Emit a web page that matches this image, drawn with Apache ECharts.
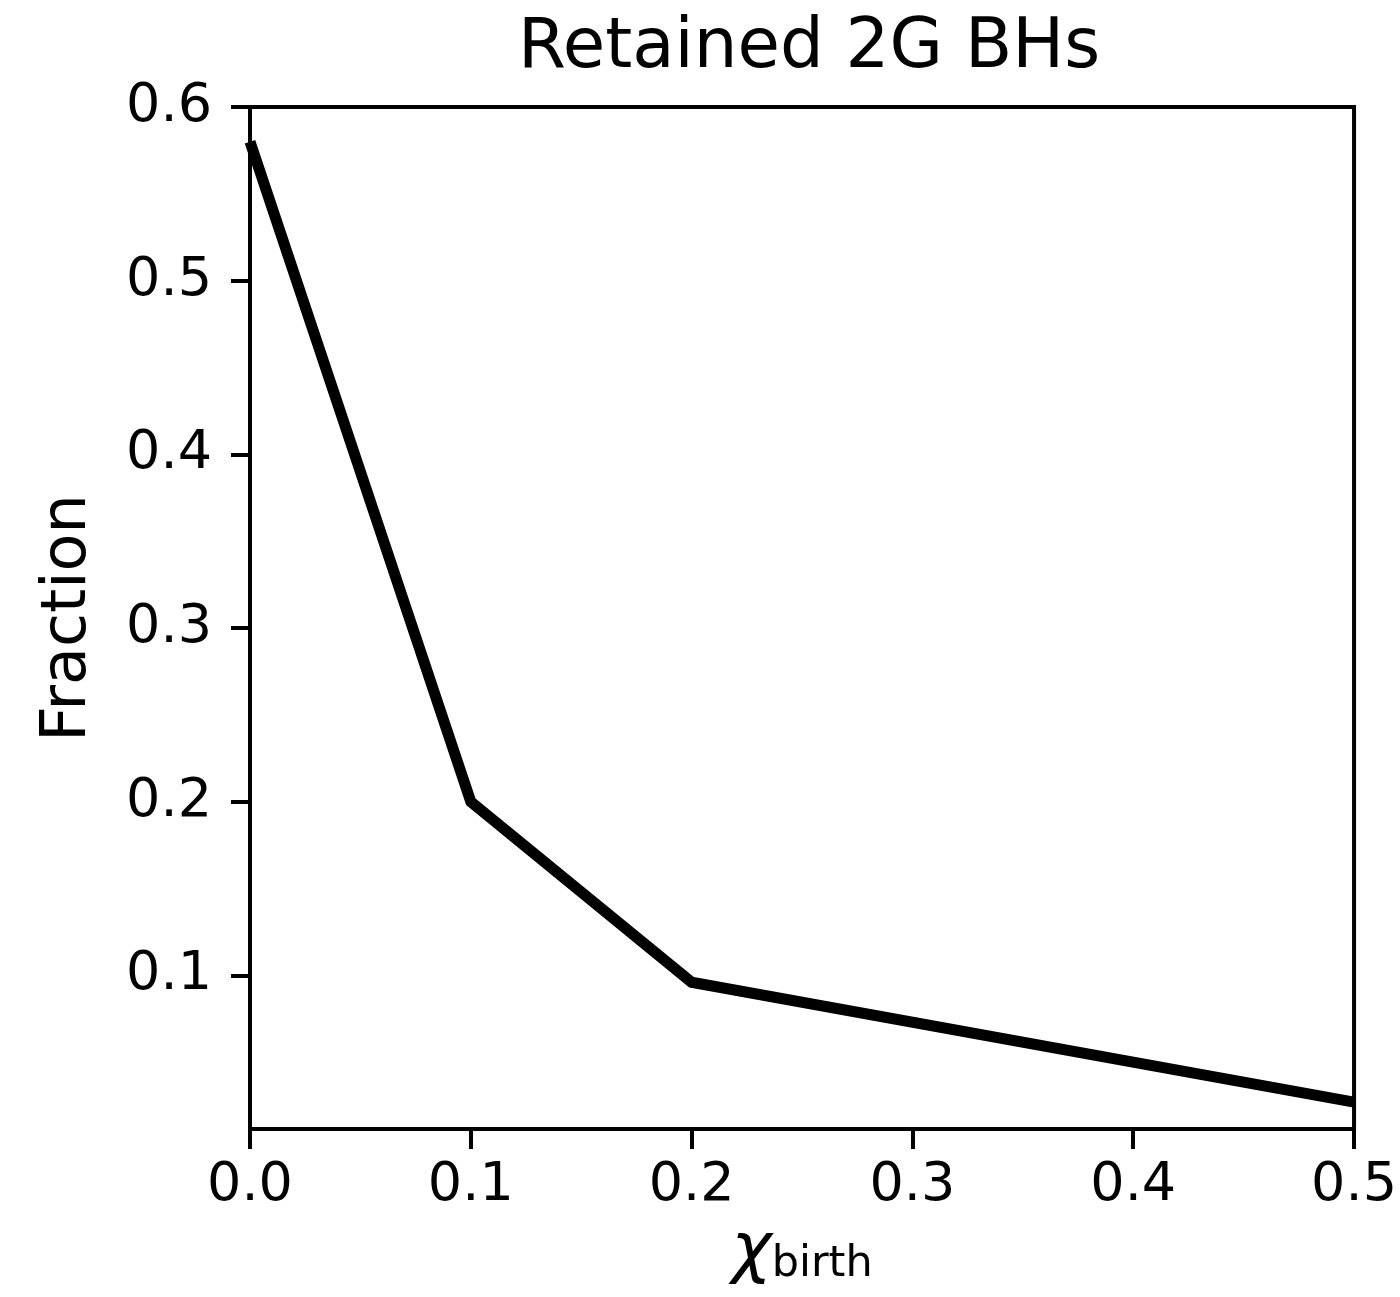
<!DOCTYPE html>
<html>
<head>
<meta charset="utf-8">
<script src="https://cdn.jsdelivr.net/npm/echarts@6/dist/echarts.min.js"></script>
<style>
  html, body { margin: 0; padding: 0; background: #fff; }
  #chart { width: 1400px; height: 1297px; }
</style>
</head>
<body>
<div id="chart"></div>
<script>
// Spin magnitude at birth
var chiBirth = [0.0, 0.1, 0.2, 0.5];
// Fraction of second-generation black holes retained
var retainedFraction = [0.58, 0.2, 0.096, 0.027];

var xTicks = [0.0, 0.1, 0.2, 0.3, 0.4, 0.5];
var yTicks = [0.1, 0.2, 0.3, 0.4, 0.5, 0.6];

var FONT = 'DejaVu Sans';

var chart = echarts.init(document.getElementById('chart'), null, { renderer: 'canvas' });

chart.setOption({
  animation: false,
  backgroundColor: '#ffffff',
  title: {
    text: 'Retained 2G BHs',
    left: 804,
    top: 10,
    textAlign: 'center',
    textStyle: { fontFamily: FONT, fontSize: 69, fontWeight: 'normal', color: '#000' }
  },
  grid: {
    left: 250, right: 44, top: 107, bottom: 168,
    show: true, borderColor: '#000', borderWidth: 4, backgroundColor: 'transparent'
  },
  xAxis: {
    type: 'value',
    min: 0, max: 0.5,
    name: '{chi|χ}{sub|birth}',
    nameLocation: 'middle',
    nameGap: 88,
    nameTextStyle: {
      rich: {
        chi: { fontFamily: FONT, fontStyle: 'italic', fontSize: 68, color: '#000', verticalAlign: 'bottom' },
        sub: { fontFamily: FONT, fontSize: 43, color: '#000', verticalAlign: 'bottom' }
      }
    },
    axisLine: { show: true, onZero: false, lineStyle: { color: '#000', width: 4 } },
    axisTick: { show: true, inside: false, length: 20, customValues: xTicks, lineStyle: { color: '#000', width: 4 } },
    axisLabel: {
      customValues: xTicks,
      margin: 30,
      fontFamily: FONT, fontSize: 54, color: '#000',
      formatter: function (v) { return v.toFixed(1); }
    },
    splitLine: { show: false }
  },
  yAxis: {
    type: 'value',
    min: 0.0115, max: 0.6,
    name: 'Fraction',
    nameLocation: 'middle',
    nameGap: 150,
    nameTextStyle: { fontFamily: FONT, fontSize: 62, color: '#000' },
    axisLine: { show: true, onZero: false, lineStyle: { color: '#000', width: 4 } },
    axisTick: { show: true, inside: false, length: 19, customValues: yTicks, lineStyle: { color: '#000', width: 4 } },
    axisLabel: {
      customValues: yTicks,
      margin: 38,
      fontFamily: FONT, fontSize: 54, color: '#000',
      formatter: function (v) { return v.toFixed(1); }
    },
    splitLine: { show: false }
  },
  series: [{
    type: 'line',
    data: chiBirth.map(function (x, i) { return [x, retainedFraction[i]]; }),
    showSymbol: false,
    symbol: 'none',
    clip: true,
    lineStyle: { color: '#000', width: 11, join: 'miter', cap: 'butt' }
  }]
});
</script>
</body>
</html>
